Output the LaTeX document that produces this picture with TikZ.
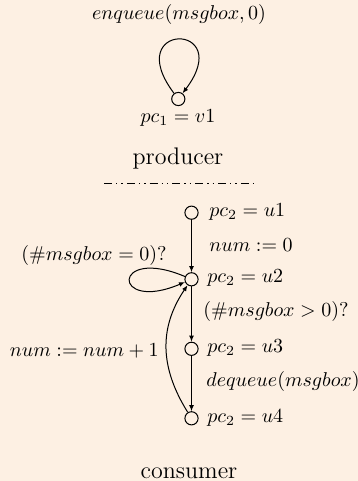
\documentclass[tikz,border=0pt]{standalone}
\usetikzlibrary{arrows.meta}
\definecolor{bg}{RGB}{253,240,227}
\begin{document}
\begin{tikzpicture}[x=0.5pt,y=-0.5pt,
  state/.style={circle,draw,line width=0.5pt,minimum size=6.6pt,inner sep=0pt,fill=bg},
  lbl/.style={inner sep=0pt,font=\normalsize},
  title/.style={inner sep=0pt,font=\large},
  edge/.style={line width=0.5pt,-{Latex[length=3pt,width=2.4pt]}},
  sep/.style={line width=0.5pt,dash pattern=on 4pt off 2pt on 0.7pt off 2pt on 0.7pt off 2pt}]
\fill[bg] (0,0) rectangle (358,481);
\useasboundingbox (0,0) rectangle (358,481);
% producer
\node[state] (v1) at (178.3,99) {};
\node[lbl] (lenq) at (179,15) {$enqueue(msgbox,0)$};
\node[lbl] (lv1) at (178,118) {$pc_1 = v1$};
\node[title] (prod) at (178,158) {producer};
\coordinate (sa) at (104,183);
\coordinate (sb) at (258,183);
\draw[sep] (sa) -- (sb);
\draw[edge] (v1) to[out=127,in=53,distance=45pt] (v1);
% consumer
\node[state] (u1) at (191.5,212.7) {};
\node[state] (u2) at (191.5,279.3) {};
\node[state] (u3) at (191.5,348.8) {};
\node[state] (u4) at (191.5,418.3) {};
\node[lbl,anchor=west] (lu1) at (209,212) {$pc_2 = u1$};
\node[lbl,anchor=west] (lu2) at (207,278) {$pc_2 = u2$};
\node[lbl,anchor=west] (lu3) at (207,348) {$pc_2 = u3$};
\node[lbl,anchor=west] (lu4) at (207,418) {$pc_2 = u4$};
\node[lbl,anchor=west] (lnum) at (209,245) {$num := 0$};
\node[lbl,anchor=west] (lgt) at (203,311) {$(\#msgbox > 0)?$};
\node[lbl,anchor=west] (ldeq) at (206,381) {$dequeue(msgbox)$};
\node[lbl,anchor=east] (leq) at (167,255) {$(\#msgbox = 0)?$};
\node[lbl,anchor=east] (linc) at (159,351) {$num := num + 1$};
\node[title] (cons) at (189,473) {consumer};
\draw[edge] (u1) -- (u2);
\draw[edge] (u2) -- (u3);
\draw[edge] (u3) -- (u4);
\draw[edge] (u2) to[out=157,in=203,distance=40pt] (u2);
\draw[edge] (u4) to[out=122,in=236,looseness=1.05] (u2);
\end{tikzpicture}
\end{document}
